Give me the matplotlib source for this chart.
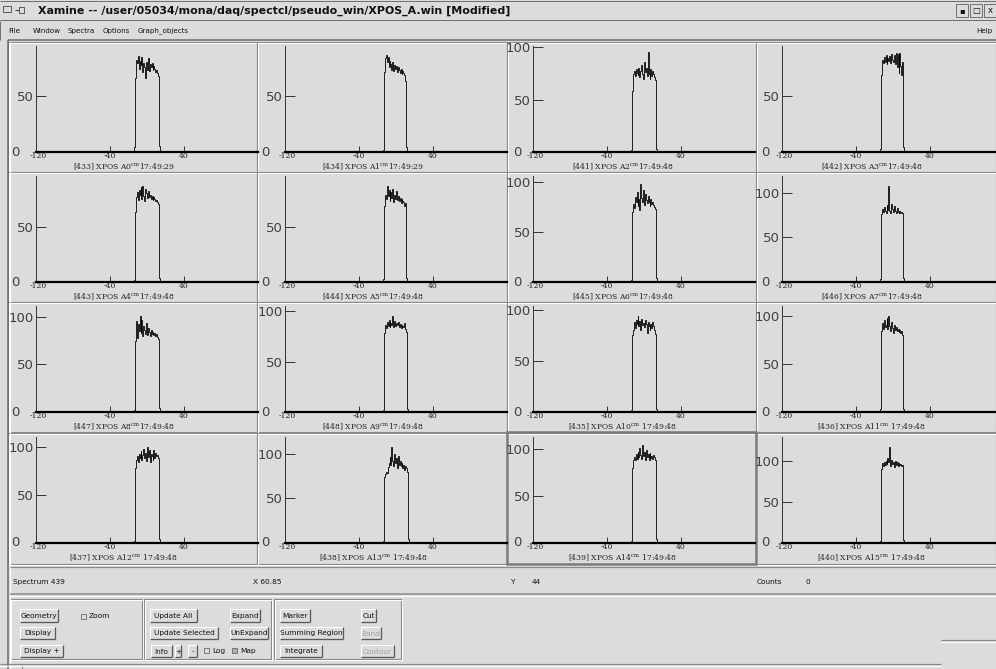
import numpy as np
import matplotlib.pyplot as plt
from matplotlib.patches import Rectangle

# XPOS spectra for the 16 A-channels, 1 cm bins starting at -14 cm
bin_start = -14
xpos_a0 = [4, 66, 82, 79, 85, 74, 81, 77, 84, 71, 79, 75, 66, 80, 73, 83, 72, 78, 75, 79, 73, 76, 74, 71, 73, 70, 67, 5, 1, 0, 1, 0, 1]
xpos_a1 = [2, 71, 83, 86, 80, 84, 75, 81, 78, 73, 80, 72, 77, 74, 76, 71, 75, 73, 70, 74, 69, 72, 70, 68, 63, 4, 0, 0, 1, 0, 0, 0, 0]
xpos_a2 = [2, 58, 74, 77, 72, 79, 75, 73, 80, 71, 77, 83, 74, 70, 86, 76, 80, 72, 95, 74, 70, 79, 72, 77, 74, 71, 69, 3, 1, 0, 0, 0, 0]
xpos_a3 = [3, 68, 82, 79, 84, 80, 86, 78, 83, 81, 85, 79, 87, 82, 80, 86, 78, 88, 75, 87, 70, 88, 76, 68, 80, 4, 1, 0, 0, 0, 0, 0, 0]
xpos_a4 = [2, 64, 78, 82, 75, 84, 80, 87, 76, 88, 79, 74, 85, 81, 77, 83, 78, 80, 76, 79, 75, 78, 76, 74, 75, 73, 71, 4, 1, 0, 0, 0, 0]
xpos_a5 = [3, 70, 80, 76, 88, 79, 84, 74, 82, 77, 85, 73, 80, 76, 83, 75, 79, 74, 77, 72, 76, 74, 73, 70, 72, 4, 0, 0, 0, 0, 0, 0, 0]
xpos_a6 = [2, 70, 78, 74, 85, 80, 90, 76, 83, 72, 98, 84, 80, 92, 77, 88, 82, 79, 86, 80, 76, 83, 78, 80, 77, 75, 73, 4, 1, 0, 0, 0, 0]
xpos_a7 = [3, 76, 82, 79, 84, 80, 78, 86, 81, 108, 80, 77, 88, 82, 79, 85, 80, 78, 83, 79, 77, 80, 78, 79, 77, 4, 0, 0, 0, 0, 0, 0, 0]
xpos_a8 = [2, 74, 95, 78, 92, 85, 101, 83, 96, 80, 90, 86, 82, 93, 81, 88, 84, 80, 86, 82, 84, 81, 83, 80, 82, 79, 76, 4, 1, 0, 0, 0, 0]
xpos_a9 = [2, 78, 86, 83, 89, 85, 91, 84, 88, 86, 95, 84, 90, 85, 88, 86, 89, 84, 87, 83, 86, 85, 84, 88, 82, 79, 3, 1, 0, 0, 0, 0, 0]
xpos_a10 = [2, 76, 80, 88, 82, 90, 86, 94, 84, 89, 80, 91, 85, 87, 83, 90, 86, 78, 88, 84, 80, 86, 82, 88, 84, 80, 77, 3, 1, 0, 0, 0, 0]
xpos_a11 = [3, 84, 92, 86, 95, 88, 90, 98, 86, 100, 89, 84, 93, 87, 82, 90, 85, 88, 84, 86, 83, 85, 82, 84, 80, 3, 0, 0, 0, 0, 0, 0, 0]
xpos_a12 = [2, 78, 86, 90, 84, 92, 88, 95, 86, 91, 98, 88, 93, 85, 100, 89, 96, 84, 92, 90, 86, 97, 88, 93, 90, 91, 88, 4, 1, 0, 0, 0, 0]
xpos_a13 = [2, 74, 78, 80, 79, 85, 90, 96, 88, 108, 92, 86, 100, 90, 95, 84, 98, 88, 92, 86, 90, 84, 88, 82, 86, 84, 80, 4, 1, 0, 0, 0, 0]
xpos_a14 = [2, 80, 89, 92, 88, 95, 90, 97, 92, 101, 94, 90, 104, 93, 97, 89, 99, 92, 95, 88, 96, 91, 93, 90, 94, 92, 89, 4, 1, 0, 0, 0, 0]
xpos_a15 = [3, 90, 97, 94, 99, 95, 100, 96, 103, 98, 117, 94, 101, 96, 99, 93, 100, 95, 98, 94, 97, 95, 96, 94, 95, 4, 0, 0, 0, 0, 0, 0, 0]

spectra = [xpos_a0, xpos_a1, xpos_a2, xpos_a3, xpos_a4, xpos_a5, xpos_a6, xpos_a7,
           xpos_a8, xpos_a9, xpos_a10, xpos_a11, xpos_a12, xpos_a13, xpos_a14, xpos_a15]
spec_ids = [433, 434, 441, 442, 443, 444, 445, 446, 447, 448, 435, 436, 437, 438, 439, 440]
channels = ['A0', 'A1', 'A2', 'A3', 'A4', 'A5', 'A6', 'A7',
            'A8', 'A9', 'A10', 'A11', 'A12', 'A13', 'A14', 'A15']
times = ['17:49:29', '17:49:29'] + ['17:49:48'] * 14
y_top = [94, 94, 101, 94, 97, 97, 106, 119, 111, 105, 104, 110, 110, 119, 113, 129]

W, H = 996, 669
BG = '#dcdcdc'
DARK = '#8a8a8a'
plt.rcParams['mathtext.fontset'] = 'dejavuserif'

fig = plt.figure(figsize=(W / 100, H / 100), dpi=100, facecolor=BG)
gui = fig.add_axes([0, 0, 1, 1])
gui.set_xlim(0, W)
gui.set_ylim(H, 0)
gui.axis('off')


def seg(x0, y0, x1, y1, c=DARK, lw=1.0):
    gui.plot([x0, x1], [y0, y1], color=c, lw=lw * 0.72, solid_capstyle='butt')


def etched(x0, y0, x1, y1):
    # sunken frame: dark line with white highlight
    gui.add_patch(Rectangle((x0, y0), x1 - x0, y1 - y0, fill=False, ec=DARK, lw=0.8))
    gui.add_patch(Rectangle((x0 + 1, y0 + 1), x1 - x0, y1 - y0, fill=False, ec='white', lw=0.7))


def button(x, y, w, h, label, active=True):
    seg(x, y, x + w, y, 'white')
    seg(x, y, x, y + h, 'white')
    seg(x, y + h, x + w, y + h, '#5a5a5a', 1.3)
    seg(x + w, y, x + w, y + h, '#5a5a5a', 1.3)
    gui.text(x + w / 2, y + h / 2 + 0.5, label, fontsize=5.3, ha='center', va='center',
             color='#111111' if active else '#a0a0a0')


def checkbox(x, y, label, filled=False):
    gui.add_patch(Rectangle((x, y), 5, 5, fc='#b0b0b0' if filled else BG, ec='#6a6a6a', lw=0.6))
    gui.text(x + 8, y + 2.5, label, fontsize=5.3, ha='left', va='center', color='#111111')


# title bar
seg(0, 1, W, 1, '#707070')
seg(0, 20, W, 20, '#707070')
gui.add_patch(Rectangle((3, 6), 8, 6, fill=False, ec='#444444', lw=0.6))
seg(15, 10, 19, 10, '#444444')
gui.add_patch(Rectangle((19, 7), 5, 6, fill=False, ec='#444444', lw=0.6))
gui.text(38, 10.5, 'Xamine -- /user/05034/mona/daq/spectcl/pseudo_win/XPOS_A.win [Modified]',
         fontsize=7.95, fontweight='bold', ha='left', va='center', color='#111111')
for bx, glyph in [(956, '\u25aa'), (970, '\u25a1'), (984, 'x')]:
    gui.add_patch(Rectangle((bx, 4), 12, 13, fill=False, ec='#707070', lw=0.7))
    gui.text(bx + 6, 10.5, glyph, fontsize=6, ha='center', va='center', color='#111111')

# menu bar
for mx, item in [(8, 'File'), (33, 'Window'), (67, 'Spectra'), (103, 'Options'), (138, 'Graph_objects')]:
    gui.text(mx, 31, item, fontsize=5.1, ha='left', va='center', color='#111111')
gui.text(976, 31, 'Help', fontsize=5.1, ha='left', va='center', color='#111111')
seg(0, 21, 0, 40, '#707070')
seg(8, 40, W, 40, '#6a6a6a', 1.5)
seg(8, 40, 8, H, '#6a6a6a', 1.5)
seg(10, 42, 10, H, 'white')

# spectrum panes
col_left = [8, 257, 507, 756]
col_right = [257, 507, 756, 996]
axis_x = [36, 285, 533, 782]
zero_off = [17, 15, 12, 12]
row_top = [42, 172, 302, 433]
row_bot = [172, 302, 432, 564]

for r in range(4):
    for c in range(4):
        etched(col_left[c], row_top[r], col_right[c], row_bot[r])

# selected pane (spectrum 439)
gui.add_patch(Rectangle((col_left[2], row_top[3] - 1), col_right[2] - col_left[2], row_bot[3] - row_top[3] + 1,
                        fill=False, ec='#7a7a7a', lw=1.8))

for i, counts in enumerate(spectra):
    r, c = divmod(i, 4)
    x0 = axis_x[c]
    zero_y = row_top[r] + 110
    top_y = row_top[r] + 4
    ax = fig.add_axes([x0 / W, 1 - zero_y / H, 222 / W, (zero_y - top_y) / H])
    ax.set_facecolor('none')
    edges = bin_start + np.arange(len(counts) + 1)
    ax.stairs(counts, edges, color='black', lw=0.6)
    ax.set_xlim(-120, 120)
    ax.set_ylim(0, y_top[i])
    for side in ['top', 'right']:
        ax.spines[side].set_visible(False)
    ax.spines['left'].set_linewidth(0.7)
    ax.spines['left'].set_color('#333333')
    ax.spines['bottom'].set_linewidth(1.6)
    ax.spines['bottom'].set_color('black')
    yt = [50, 100] if y_top[i] >= 100 else [50]
    ax.set_yticks(yt)
    ax.set_yticklabels([str(v) for v in yt], fontsize=9.5, color='#404040')
    ax.tick_params(axis='y', direction='in', length=7.5, width=0.7, color='#333333', pad=1.5)
    ax.set_xticks([-40, 40])
    ax.set_xticklabels(['-40', '40'], fontsize=5.5, family='DejaVu Serif', color='#222222')
    ax.tick_params(axis='x', direction='in', length=4.5, width=0.7, color='#333333', pad=0)
    gui.text(x0 - zero_off[c], zero_y, '0', fontsize=9.5, ha='right', va='center', color='#404040')
    gui.text(x0 + 2, zero_y + 4, '-120', fontsize=5.5, family='DejaVu Serif', ha='center', va='center',
             color='#222222')
    sep = '' if len(channels[i]) == 2 else ' '
    title = '[%d] XPOS %s$^{\\mathrm{cm}}$%s%s' % (spec_ids[i], channels[i], sep, times[i])
    gui.text(col_left[c] + 116, row_top[r] + 125, title, fontsize=5.5, family='DejaVu Serif',
             ha='center', va='center', color='#222222')

# status line
seg(10, 567, W, 567, '#8a8a8a', 1.2)
seg(10, 594, W, 594, '#8a8a8a', 1.5)
seg(10, 596, W, 596, 'white')
gui.text(13, 582, 'Spectrum 439', fontsize=5.3, ha='left', va='center', color='#111111')
gui.text(253, 582, 'X 60.85', fontsize=5.3, ha='left', va='center', color='#111111')
gui.text(510, 582, 'Y', fontsize=5.3, ha='left', va='center', color='#111111')
gui.text(532, 582, '44', fontsize=5.3, ha='left', va='center', color='#111111')
gui.text(757, 582, 'Counts', fontsize=5.3, ha='left', va='center', color='#111111')
gui.text(806, 582, '0', fontsize=5.3, ha='left', va='center', color='#111111')

# control groups
etched(10, 599, 142, 659)
etched(144, 599, 271, 659)
etched(274, 599, 401, 659)
button(20, 609, 38, 13, 'Geometry')
button(20, 627, 35, 12, 'Display')
button(20, 645, 43, 12, 'Display +')
checkbox(81, 614, 'Zoom')
button(150, 609, 47, 13, 'Update All')
button(230, 609, 30, 13, 'Expand')
button(150, 627, 68, 12, 'Update Selected')
button(230, 627, 38, 12, 'UnExpand')
button(151, 645, 21, 12, 'Info')
button(175, 645, 6, 12, '+')
button(188, 645, 9, 12, '-')
checkbox(204, 648, 'Log')
checkbox(232, 648, 'Map', filled=True)
button(280, 609, 30, 13, 'Marker')
button(361, 609, 15, 13, 'Cut')
button(280, 627, 63, 12, 'Summing Region')
button(361, 627, 20, 12, 'Band', active=False)
button(280, 645, 42, 12, 'Integrate')
button(361, 645, 33, 12, 'Contour', active=False)

seg(941, 640, W, 640, '#8a8a8a', 1.2)
seg(941, 642, W, 642, 'white')
seg(0, 664, 941, 664, '#8a8a8a', 1.2)
seg(0, 666, 941, 666, 'white')
seg(22, 666, 22, H, '#8a8a8a')

fig.savefig('out.png', dpi=100, facecolor=BG)
